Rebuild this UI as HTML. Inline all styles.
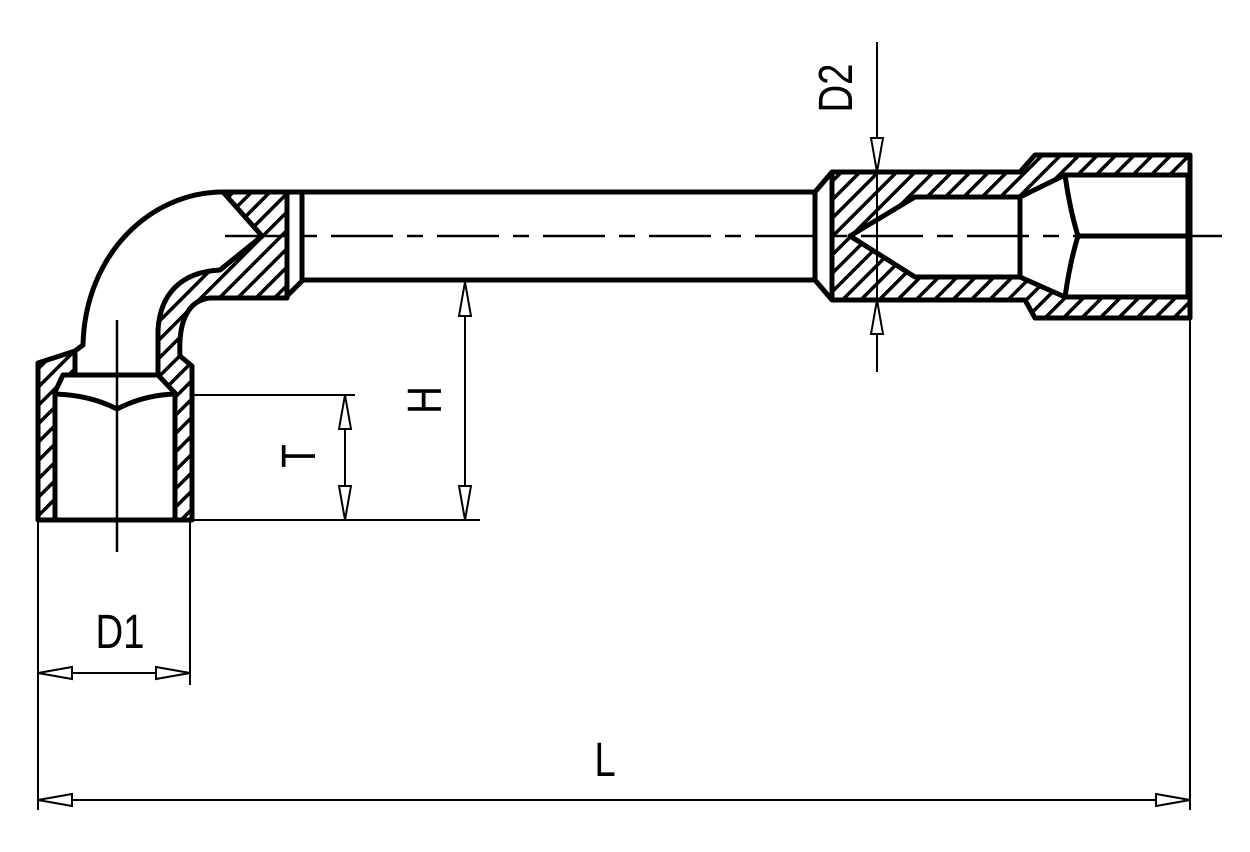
<!DOCTYPE html>
<html><head><meta charset="utf-8"><style>
html,body{margin:0;padding:0;background:#fff;}
svg{display:block;}
text{font-family:"Liberation Sans",sans-serif;font-size:48px;fill:#000;}
</style></head><body>
<svg width="1250" height="852" viewBox="0 0 1250 852" xmlns="http://www.w3.org/2000/svg">
<defs>
<pattern id="h" patternUnits="userSpaceOnUse" width="13" height="13" patternTransform="rotate(45)">
<rect x="0" y="0" width="3.5" height="13" fill="#000"/>
</pattern>
</defs>
<g stroke="#000" stroke-width="5" stroke-linejoin="round" fill="none">
<path fill="url(#h)" fill-rule="evenodd" d="M832,172 L1020,172 L1035,155 L1190,155 L1190,318 L1035,318 L1025,300 L832,300 Z
 M915,197 L1020,197 L1065,175 L1188,175 L1188,297 L1065,297 L1020,277 L915,277 L850,236 Z"/>
<path d="M810,192 L815,192 L832,172 M815,192 L815,280 L832,300 M810,280 L815,280"/>
<line x1="1020" y1="197" x2="1020" y2="277"/>
<path d="M1065,175 Q1070,210 1078,236 Q1070,262 1065,297"/>
<line x1="1078" y1="236" x2="1190" y2="236"/>
<line x1="223" y1="192" x2="810" y2="192"/>
<line x1="303" y1="280" x2="810" y2="280"/>
<line x1="287" y1="192" x2="287" y2="298"/>
<line x1="302" y1="192" x2="302" y2="280"/>
<path fill="url(#h)" d="M223,192 L287,192 L287,298 L210,298 C190,300 178,318 180,356 L192,366 L192,520 L175,520 L175,393 L158,375 L158,330 C160,295 180,272 220,270 L262,236 Z"/>
<line x1="285" y1="298" x2="303" y2="280"/>
<path fill="url(#h)" d="M38,363 L75,351 L75,375 L63,375 L55,392 L55,520 L38,520 Z"/>
<path d="M223,192 C150,192 85,255 83,345 L75,351"/>
<line x1="63" y1="375" x2="158" y2="375"/>
<path d="M55,394 Q90,395 117,409 Q144,395 175,394"/>
<line x1="38" y1="520" x2="192" y2="520"/>
</g>
<g stroke="#000" stroke-width="2.5" fill="none">
<line x1="225" y1="236" x2="1222" y2="236" stroke-dasharray="62,14,16,14"/>
<line x1="117" y1="320" x2="117" y2="552"/>
</g>
<g stroke="#000" stroke-width="2" fill="none">
<line x1="877" y1="42" x2="877" y2="372"/>
<line x1="192" y1="520" x2="480" y2="520"/>
<line x1="465" y1="282" x2="465" y2="520"/>
<line x1="192" y1="395" x2="355" y2="395"/>
<line x1="345" y1="395" x2="345" y2="520"/>
<line x1="38" y1="522" x2="38" y2="810"/>
<line x1="190" y1="522" x2="190" y2="685"/>
<line x1="38" y1="673" x2="190" y2="673"/>
<line x1="1190" y1="318" x2="1190" y2="810"/>
<line x1="38" y1="800" x2="1190" y2="800"/>
</g>
<g stroke="#000" stroke-width="2" fill="#fff">
<polygon points="877,172 871,138 883,138"/>
<polygon points="877,300 871,334 883,334"/>
<polygon points="465,282 459,316 471,316"/>
<polygon points="465,520 459,486 471,486"/>
<polygon points="345,395 339,429 351,429"/>
<polygon points="345,520 339,486 351,486"/>
<polygon points="38,673 72,667 72,679"/>
<polygon points="190,673 156,667 156,679"/>
<polygon points="38,800 72,794 72,806"/>
<polygon points="1190,800 1156,794 1156,806"/>
</g>
<text transform="translate(852,88) rotate(-90) scale(0.8,1)" text-anchor="middle">D2</text>
<text transform="translate(441,400) rotate(-90) scale(0.8,1)" text-anchor="middle">H</text>
<text transform="translate(315,456) rotate(-90) scale(0.8,1)" text-anchor="middle">T</text>
<text transform="translate(120,648) scale(0.8,1)" text-anchor="middle">D1</text>
<text transform="translate(605,776) scale(0.8,1)" text-anchor="middle">L</text>
</svg>
</body></html>
